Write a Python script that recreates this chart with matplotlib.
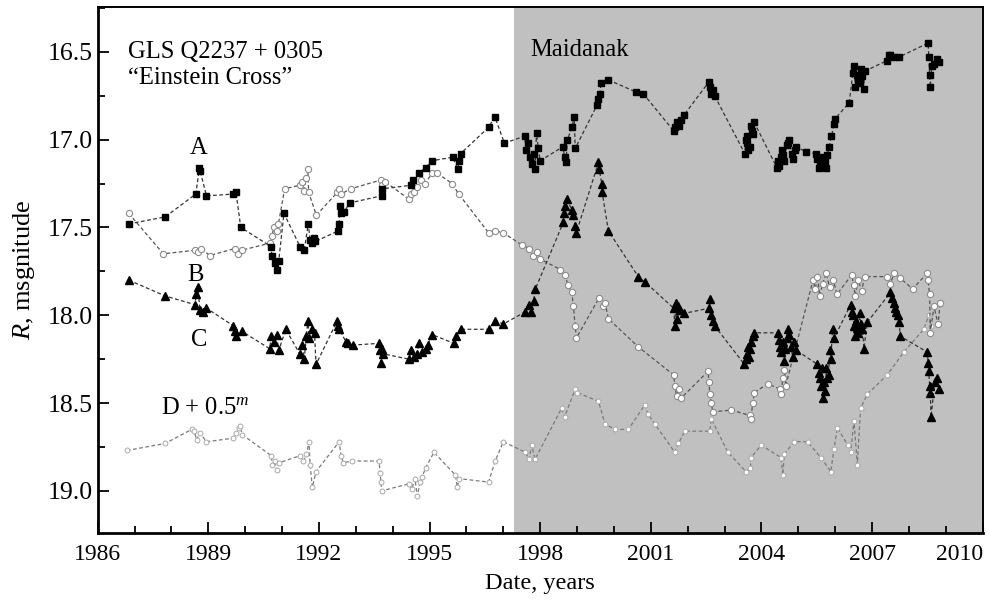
import matplotlib
matplotlib.use("Agg")
import matplotlib.pyplot as plt
from matplotlib.ticker import MultipleLocator, FixedLocator

plt.rcParams["font.family"] = ["Liberation Serif", "DejaVu Serif"]
plt.rcParams["mathtext.fontset"] = "custom"
plt.rcParams["mathtext.rm"] = "Liberation Serif"
plt.rcParams["mathtext.it"] = "Liberation Serif:italic"

# --- light curves (year, R magnitude) ---
a_year = [1986.84, 1987.83, 1988.66, 1988.76, 1988.78, 1988.95, 1989.68, 1989.75, 1989.88,
          1990.71, 1990.72, 1990.80, 1990.86, 1990.91, 1991.05, 1991.49, 1991.60, 1991.71,
          1991.76, 1991.80, 1991.87, 1991.90, 1992.52, 1992.55, 1992.56, 1992.60, 1992.68,
          1992.84, 1993.70, 1993.72, 1994.49, 1994.56, 1994.71, 1994.89, 1995.07, 1995.63,
          1995.77, 1995.79, 1995.84, 1996.60, 1996.77, 1997.03,
          1997.58, 1997.62, 1997.68, 1997.73, 1997.78, 1997.82, 1997.86, 1997.90, 1997.95,
          1998.00, 1998.62, 1998.66, 1998.70, 1998.74, 1998.86, 1998.92, 1998.95, 1999.55,
          1999.58, 1999.62, 1999.65, 1999.85, 2000.61, 2000.80, 2001.62, 2001.65, 2001.70,
          2001.76, 2001.83, 2001.90, 2002.58, 2002.60, 2002.64, 2002.70, 2002.73,
          2003.55, 2003.58, 2003.60, 2003.62, 2003.64, 2003.68, 2003.72, 2003.74, 2003.76, 2003.80,
          2004.42, 2004.45, 2004.49, 2004.52, 2004.56, 2004.58, 2004.62, 2004.68, 2004.72, 2004.76,
          2004.82, 2004.86, 2004.90, 2004.95, 2005.20,
          2005.48, 2005.52, 2005.55, 2005.58, 2005.62, 2005.66, 2005.68, 2005.72, 2005.74, 2005.78,
          2005.84, 2005.90, 2005.97, 2006.00,
          2006.38, 2006.48, 2006.51, 2006.55, 2006.58, 2006.62, 2006.66, 2006.70, 2006.74, 2006.77,
          2006.80, 2007.41, 2007.46, 2007.50, 2007.60, 2007.73, 2008.52, 2008.54, 2008.56,
          2008.58, 2008.62, 2008.68, 2008.75, 2008.81]
a_mag = [17.48, 17.44, 17.31, 17.16, 17.18, 17.32, 17.31, 17.30, 17.50,
         17.61, 17.66, 17.70, 17.74, 17.69, 17.42, 17.61, 17.63, 17.48,
         17.57, 17.59, 17.56, 17.58, 17.52, 17.48, 17.38, 17.42, 17.41,
         17.36, 17.32, 17.28, 17.26, 17.23, 17.19, 17.16, 17.12, 17.10,
         17.17, 17.12, 17.08, 16.93, 16.87, 17.02,
         16.98, 17.06, 17.02, 17.10, 17.14, 17.08, 17.17, 16.96, 17.05,
         17.12, 17.04, 17.10, 17.13, 17.00, 16.93, 16.87, 17.05, 16.80,
         16.77, 16.74, 16.68, 16.66, 16.73, 16.74, 16.95, 16.93, 16.90,
         16.92, 16.89, 16.86, 16.67, 16.70, 16.74, 16.72, 16.75,
         17.08, 17.00, 17.02, 16.98, 17.06, 17.04, 16.92, 16.95, 16.97, 16.90,
         17.16, 17.12, 17.15, 17.10, 17.06, 17.09, 17.12, 17.03, 17.02, 17.00,
         17.08, 17.11, 17.06, 17.04, 17.07,
         17.08, 17.11, 17.16, 17.13, 17.15, 17.14, 17.10, 17.12, 17.16, 17.09,
         17.04, 16.98, 16.91, 16.88,
         16.79, 16.62, 16.58, 16.70, 16.63, 16.66, 16.68, 16.60, 16.64, 16.71,
         16.61, 16.55, 16.52, 16.52, 16.53, 16.53, 16.45, 16.53, 16.63,
         16.70, 16.58, 16.57, 16.54, 16.56]

b_year = [1986.84, 1987.78, 1988.64, 1988.72, 1988.80, 1989.04, 1989.72, 1989.80, 1989.90,
          1990.66, 1990.72, 1990.78, 1990.85, 1990.90, 1991.07, 1991.48, 1991.55, 1991.60,
          1991.65, 1991.70, 1991.72, 1991.93, 1992.50, 1992.55, 1992.60, 1992.86, 1993.68,
          1993.72, 1993.80, 1994.44, 1994.50, 1994.57, 1994.66, 1994.78, 1994.88, 1995.07,
          1995.20, 1995.61, 1995.79, 1996.60, 1996.78, 1997.00, 1997.50, 1997.70, 1997.80,
          1997.90, 1998.00, 1998.55, 1998.68, 1998.75, 1998.86, 1998.90, 1998.95, 1998.98,
          1999.60, 1999.70, 1999.76, 1999.85, 2000.66, 2001.62, 2001.65, 2001.70, 2001.76,
          2001.83, 2002.55, 2002.58, 2002.60, 2002.64, 2002.68, 2003.18, 2003.68, 2003.72,
          2003.76, 2003.81, 2004.17, 2004.50, 2004.53, 2004.58, 2004.62, 2004.66, 2005.40,
          2005.46, 2005.52, 2005.58, 2005.66, 2005.75, 2005.85, 2005.95, 2006.05, 2006.45,
          2006.50, 2006.55, 2006.62, 2006.72, 2006.80, 2007.41, 2007.50, 2007.60, 2007.77,
          2008.10, 2008.50, 2008.52, 2008.56, 2008.58, 2008.68, 2008.79, 2008.85]
b_mag = [17.42, 17.65, 17.63, 17.64, 17.62, 17.66, 17.62, 17.65, 17.63,
         17.59, 17.55, 17.50, 17.52, 17.48, 17.28, 17.26, 17.24, 17.29,
         17.22, 17.17, 17.30, 17.43, 17.30, 17.28, 17.31, 17.28, 17.23,
         17.26, 17.24, 17.34, 17.31, 17.30, 17.27, 17.23, 17.25, 17.19,
         17.19, 17.25, 17.31, 17.53, 17.52, 17.53, 17.60, 17.62, 17.66,
         17.64, 17.68, 17.74, 17.77, 17.83, 17.87, 17.95, 18.06, 18.13,
         17.90, 17.95, 17.93, 18.02, 18.18, 18.34, 18.40, 18.46, 18.42,
         18.47, 18.32, 18.38, 18.45, 18.50, 18.55, 18.54, 18.57, 18.59,
         18.50, 18.44, 18.39, 18.42, 18.45, 18.36, 18.31, 18.40, 17.80,
         17.85, 17.78, 17.89, 17.82, 17.76, 17.84, 17.80, 17.88, 17.77,
         17.83, 17.89, 17.80, 17.86, 17.78, 17.78, 17.82, 17.76, 17.79,
         17.85, 17.76, 17.80, 17.88, 18.10, 17.95, 18.05, 17.93]

c_year = [1986.84, 1987.83, 1988.64, 1988.67, 1988.72, 1988.77, 1988.86, 1988.95, 1989.68,
          1989.72, 1989.76, 1989.90, 1990.66, 1990.71, 1990.78, 1990.85, 1990.91, 1991.10,
          1991.48, 1991.55, 1991.60, 1991.66, 1991.70, 1991.74, 1991.80, 1991.88, 1991.92,
          1992.50, 1992.52, 1992.55, 1992.73, 1992.80, 1992.92, 1993.63, 1993.66, 1993.68,
          1993.70, 1993.75, 1994.44, 1994.50, 1994.58, 1994.66, 1994.71, 1994.80, 1994.90,
          1994.95, 1995.07, 1995.66, 1995.73, 1995.84, 1996.60, 1996.78, 1997.00, 1997.60,
          1997.70, 1997.76, 1997.82, 1997.87, 1998.63, 1998.65, 1998.68, 1998.72, 1998.86,
          1998.90, 1998.95, 1998.98, 1999.58, 1999.60, 1999.67, 1999.68, 1999.85, 2000.66,
          2000.84, 2001.62, 2001.65, 2001.68, 2001.72, 2001.75, 2001.80, 2001.89,
          2002.58, 2002.60, 2002.64, 2002.70, 2002.73,
          2003.54, 2003.58, 2003.60, 2003.63, 2003.66, 2003.70, 2003.72, 2003.76, 2003.81,
          2004.44, 2004.47, 2004.50, 2004.53, 2004.58, 2004.62, 2004.64, 2004.68, 2004.71,
          2004.75, 2004.80, 2004.85, 2004.89, 2004.95,
          2005.52, 2005.56, 2005.58, 2005.61, 2005.64, 2005.66, 2005.70, 2005.73, 2005.76,
          2005.79, 2005.82, 2005.85, 2005.88, 2005.93, 2005.97,
          2006.42, 2006.45, 2006.48, 2006.51, 2006.53, 2006.56, 2006.60, 2006.63, 2006.66,
          2006.70, 2006.74, 2006.78, 2006.87,
          2007.50, 2007.55, 2007.60, 2007.63, 2007.66, 2007.70, 2007.73, 2007.77,
          2008.50, 2008.52, 2008.54, 2008.56, 2008.58, 2008.60, 2008.70, 2008.77, 2008.81]
c_mag = [17.80, 17.89, 17.94, 17.88, 17.84, 17.97, 17.98, 17.96, 18.06,
         18.09, 18.12, 18.09, 18.19, 18.12, 18.15, 18.11, 18.20, 18.08,
         18.22, 18.17, 18.25, 18.12, 18.03, 18.13, 18.08, 18.10, 18.28,
         18.03, 18.06, 18.08, 18.15, 18.16, 18.17, 18.16, 18.20, 18.27,
         18.19, 18.22, 18.25, 18.20, 18.24, 18.22, 18.16, 18.21, 18.19,
         18.17, 18.11, 18.16, 18.12, 18.08, 18.08, 18.03, 18.05, 17.98,
         17.94, 17.98, 17.92, 17.85, 17.47, 17.42, 17.38, 17.34, 17.40,
         17.43, 17.49, 17.53, 17.13, 17.17, 17.25, 17.30, 17.52, 17.78,
         17.81, 17.96, 18.06, 17.93, 18.02, 17.95, 17.97, 17.99,
         17.96, 17.91, 18.00, 18.03, 18.06,
         18.28, 18.25, 18.22, 18.18, 18.24, 18.19, 18.15, 18.12, 18.10,
         18.10, 18.14, 18.18, 18.21, 18.15, 18.26, 18.19, 18.13, 18.08,
         18.11, 18.18, 18.24, 18.15, 18.20,
         18.28, 18.33, 18.36, 18.40, 18.30, 18.47, 18.38, 18.43, 18.30,
         18.36, 18.34, 18.20, 18.25, 18.08, 18.13,
         17.94, 17.98, 18.00, 18.06, 18.12, 18.03, 18.07, 18.10, 17.99,
         18.05, 18.08, 18.19, 18.04,
         17.87, 17.90, 17.93, 17.96, 17.98, 18.00, 18.04, 18.12,
         18.21, 18.27, 18.32, 18.40, 18.44, 18.58, 18.38, 18.36, 18.42]

d_year = [1986.79, 1987.83, 1988.55, 1988.62, 1988.68, 1988.77, 1988.95, 1989.68, 1989.76,
          1989.82, 1989.86, 1989.92, 1990.71, 1990.73, 1990.80, 1990.85, 1990.92, 1991.48,
          1991.58, 1991.66, 1991.73, 1991.76, 1991.82, 1991.92, 1992.55, 1992.60, 1992.66,
          1992.90, 1993.63, 1993.66, 1993.68, 1993.70, 1994.44, 1994.52, 1994.60, 1994.67,
          1994.74, 1994.80, 1994.89, 1995.12, 1995.70, 1995.75, 1995.80, 1996.60, 1996.78,
          1997.00, 1997.60, 1997.70, 1997.77, 1997.86, 1998.58, 1998.66, 1998.95, 1999.00,
          1999.58, 1999.76, 2000.03, 2000.39, 2000.84, 2000.92, 2001.11, 2001.65, 2001.75,
          2001.92, 2002.60, 2002.64, 2003.09, 2003.58, 2003.70, 2003.72, 2003.99, 2004.53,
          2004.58, 2004.62, 2004.89, 2005.25, 2005.61, 2005.88, 2005.97, 2006.06, 2006.34,
          2006.42, 2006.51, 2006.60, 2006.69, 2006.87, 2007.41, 2007.86, 2008.40, 2008.54,
          2008.60]
d_mag = [18.77, 18.73, 18.65, 18.66, 18.71, 18.67, 18.72, 18.70, 18.67,
         18.64, 18.63, 18.68, 18.80, 18.85, 18.83, 18.88, 18.84, 18.80,
         18.83, 18.79, 18.72, 18.85, 18.98, 18.89, 18.72, 18.80, 18.84,
         18.83, 18.83, 18.90, 18.95, 19.00, 18.96, 18.99, 18.93, 19.03,
         18.95, 18.92, 18.87, 18.78, 18.91, 18.98, 18.93, 18.95, 18.83,
         18.72, 18.78, 18.82, 18.74, 18.82, 18.53, 18.58, 18.42, 18.44,
         18.49, 18.62, 18.65, 18.65, 18.51, 18.56, 18.62, 18.78, 18.73,
         18.66, 18.66, 18.59, 18.78, 18.89, 18.87, 18.81, 18.74, 18.81,
         18.91, 18.79, 18.72, 18.72, 18.81, 18.89, 18.76, 18.64, 18.74,
         18.78, 18.60, 18.85, 18.53, 18.45, 18.34, 18.21, 18.08, 18.00,
         18.06]

maidanak_start = 1997.3

fig = plt.figure(figsize=(9.89, 6.01), dpi=100)
ax = fig.add_axes([0.0988, 0.1131, 0.8948, 0.8752])

ax.axvspan(maidanak_start, 2010.5, color="#c0c0c0", zorder=0, lw=0)

dash = (0, (3, 2))
ax.plot(d_year, d_mag, ls=dash, lw=0.9, color="#7a7a7a", marker="o", ms=3.5,
        mfc="white", mec="#a8a8a8", mew=0.7, zorder=2)
ax.plot(b_year, b_mag, ls=dash, lw=0.9, color="#555555", marker="o", ms=4.5,
        mfc="white", mec="#8c8c8c", mew=0.8, zorder=3)
ax.plot(c_year, c_mag, ls=dash, lw=0.9, color="#333333", marker="^", ms=5.5,
        mfc="black", mec="black", zorder=4)
ax.plot(a_year, a_mag, ls=dash, lw=0.9, color="#333333", marker="s", ms=5,
        mfc="black", mec="black", zorder=5)

ax.set_xlim(1986, 2010)
ax.set_ylim(19.24, 16.245)

ax.xaxis.set_major_locator(FixedLocator([1986, 1989, 1992, 1995, 1998, 2001, 2004, 2007, 2010]))
ax.xaxis.set_minor_locator(MultipleLocator(1))
ax.yaxis.set_major_locator(FixedLocator([16.5, 17.0, 17.5, 18.0, 18.5, 19.0]))
ax.yaxis.set_minor_locator(MultipleLocator(0.25))
ax.tick_params(which="both", direction="in", top=False, right=False, width=1.3)
ax.tick_params(which="major", length=8)
ax.tick_params(which="minor", length=5)
ax.tick_params(axis="x", labelsize=17, pad=8)
ax.tick_params(axis="y", labelsize=18.5)
ax.set_yticklabels(["16.5", "17.0", "17.5", "18.0", "18.5", "19.0"])
ax.set_xticklabels(["1986", "1989", "1992", "1995", "1998", "2001", "2004", "2007", "2010"])
ax.get_xticklabels()[-1].set_horizontalalignment("right")

for side in ["left", "bottom"]:
    ax.spines[side].set_linewidth(2.0)
for side in ["top", "right"]:
    ax.spines[side].set_linewidth(1.4)

ax.set_xlabel("Date, years", fontsize=17.5, labelpad=6)
ax.set_ylabel(r"$R$, msgnitude", fontsize=19, labelpad=8)

ax.text(0.034, 0.914, "GLS Q2237 + 0305", transform=ax.transAxes, fontsize=17.7, va="center")
ax.text(0.034, 0.866, "\u201cEinstein Cross\u201d", transform=ax.transAxes, fontsize=17.7, va="center")
ax.text(0.489, 0.918, "Maidanak", transform=ax.transAxes, fontsize=17.7, va="center")
ax.text(1988.74, 17.05, "A", fontsize=17.7, ha="center", va="center")
ax.text(1988.66, 17.77, "B", fontsize=17.7, ha="center", va="center")
ax.text(1988.74, 18.14, "C", fontsize=17.7, ha="center", va="center")
ax.text(1987.71, 18.53, r"D + 0.5$^{m}$", fontsize=17.7, ha="left", va="center")

fig.savefig("out.png", dpi=100)
